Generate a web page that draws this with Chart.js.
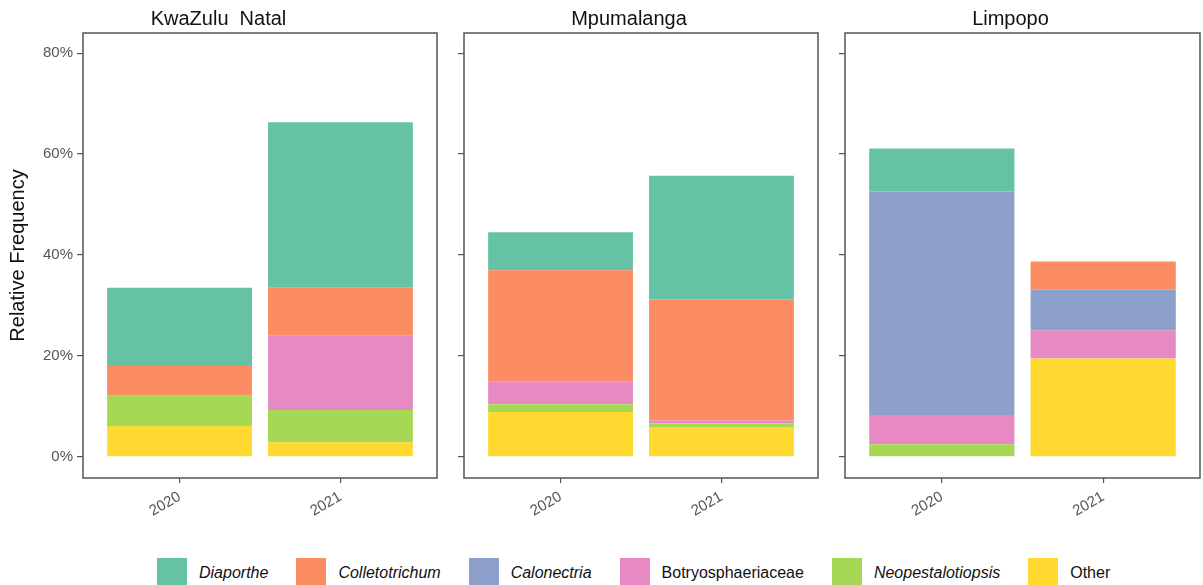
<!DOCTYPE html>
<html>
<head>
<meta charset="utf-8">
<script src="https://cdn.jsdelivr.net/npm/chart.js@4/dist/chart.umd.min.js"></script>
<style>
    body { margin: 0; width: 1203px; height: 585px; overflow: hidden; background: #fff; font-family: "Liberation Sans", Arial, sans-serif; }
    .panel { position: absolute; top: 0; height: 545px; }
    #p0 { left: 0; width: 440px; }
    #p1 { left: 440px; width: 381px; }
    #p2 { left: 821px; width: 382px; }
    #leyenda { position: absolute; top: 558px; left: 157px; display: flex; align-items: center; font-size: 16px; color: #111; }
    #leyenda .item { display: flex; align-items: center; margin-right: 28px; }
    #leyenda .caja { width: 30px; height: 30px; margin-right: 12px; }
</style>
</head>
<body>
<div class="panel" id="p0"><canvas id="c0"></canvas></div>
<div class="panel" id="p1"><canvas id="c1"></canvas></div>
<div class="panel" id="p2"><canvas id="c2"></canvas></div>
<div id="leyenda"></div>

<script>
// Datos: [2020, 2021] por region
const regiones = ['KwaZulu  Natal', 'Mpumalanga', 'Limpopo'];
const anios = ['2020', '2021'];
const taxones = ['Diaporthe', 'Colletotrichum', 'Calonectria', 'Botryosphaeriaceae', 'Neopestalotiopsis', 'Other'];

const diaporthe      = [[15.5, 32.8], [7.5, 24.5], [8.5, 0]];
const colletotrichum = [[5.9, 9.5], [22.1, 24.0], [0, 5.6]];
const calonectria    = [[0, 0], [0, 0], [44.3, 8.0]];
const botryo         = [[0, 14.7], [4.5, 0.6], [5.8, 5.6]];
const neopesta       = [[6.0, 6.4], [1.5, 0.7], [2.5, 0]];
const otros          = [[6.1, 2.9], [8.9, 5.9], [0, 19.5]];

const yTicks = [0, 20, 40, 60, 80];

const valores = [diaporthe, colletotrichum, calonectria, botryo, neopesta, otros];
const colores = ['#66C2A5', '#FC8D62', '#8DA0CB', '#E78AC3', '#A6D854', '#FFD92F'];
const cursiva = [true, true, true, false, true, false];

// marco completo del panel
const marco = {
    id: 'marco',
    afterDraw(chart) {
        const a = chart.chartArea;
        const ctx = chart.ctx;
        ctx.save();
        ctx.strokeStyle = '#555';
        ctx.lineWidth = 1.5;
        ctx.strokeRect(a.left, a.top, a.right - a.left, a.bottom - a.top);
        ctx.restore();
    }
};

function crearPanel(r) {
    // apilado de abajo hacia arriba: Other ... Diaporthe
    const datasets = [];
    for (let t = taxones.length - 1; t >= 0; t--) {
        datasets.push({
            label: taxones[t],
            data: valores[t][r].map((v, i) => ({ x: i + 1, y: v })),
            backgroundColor: colores[t],
            borderWidth: 0,
            barPercentage: 0.9,
            categoryPercentage: 1
        });
    }
    const primero = r === 0;

    new Chart(document.getElementById('c' + r), {
        type: 'bar',
        data: { datasets },
        plugins: [marco],
        options: {
            responsive: true,
            maintainAspectRatio: false,
            animation: false,
            layout: { padding: { left: 0, right: 3, top: 0, bottom: 0 } },
            plugins: {
                legend: { display: false },
                tooltip: { enabled: false },
                title: {
                    display: true,
                    text: regiones[r],
                    color: '#111',
                    font: { family: 'Liberation Sans', size: 20, weight: 'normal' },
                    padding: { top: 7, bottom: 2 }
                }
            },
            scales: {
                x: {
                    type: 'linear',
                    stacked: true,
                    offset: false,
                    min: 0.4,
                    max: 2.6,
                    afterBuildTicks: s => { s.ticks = anios.map((a, i) => ({ value: i + 1 })); },
                    afterFit: s => { s.height = 67; },
                    border: { display: false },
                    grid: { offset: false, drawOnChartArea: false, drawTicks: true, tickLength: 5, color: '#555', lineWidth: 1.2 },
                    ticks: {
                        callback: v => anios[v - 1],
                        minRotation: 30,
                        maxRotation: 30,
                        padding: 5,
                        color: '#555',
                        font: { family: 'Liberation Sans', size: 15 }
                    }
                },
                y: {
                    stacked: true,
                    min: -4.2,
                    max: 84,
                    afterBuildTicks: s => { s.ticks = yTicks.map(v => ({ value: v })); },
                    afterFit: s => { s.width = primero ? 83 : 24; },
                    border: { display: false },
                    grid: { drawOnChartArea: false, drawTicks: true, tickLength: 6, color: '#555', lineWidth: 1.2 },
                    ticks: {
                        callback: v => primero ? v + '%' : '',
                        padding: 4,
                        color: '#555',
                        font: { family: 'Liberation Sans', size: 15 }
                    },
                    title: {
                        display: primero,
                        text: 'Relative Frequency',
                        color: '#111',
                        font: { family: 'Liberation Sans', size: 20 },
                        padding: { top: 6, bottom: 0 }
                    }
                }
            }
        }
    });
}

function crearLeyenda() {
    const div = document.getElementById('leyenda');
    div.innerHTML = taxones.map((t, i) => `
        <div class="item">
            <span class="caja" style="background:${colores[i]}"></span>
            <span style="font-style:${cursiva[i] ? 'italic' : 'normal'}">${t}</span>
        </div>
    `).join('');
}

regiones.forEach((_, r) => crearPanel(r));
crearLeyenda();
</script>
</body>
</html>
